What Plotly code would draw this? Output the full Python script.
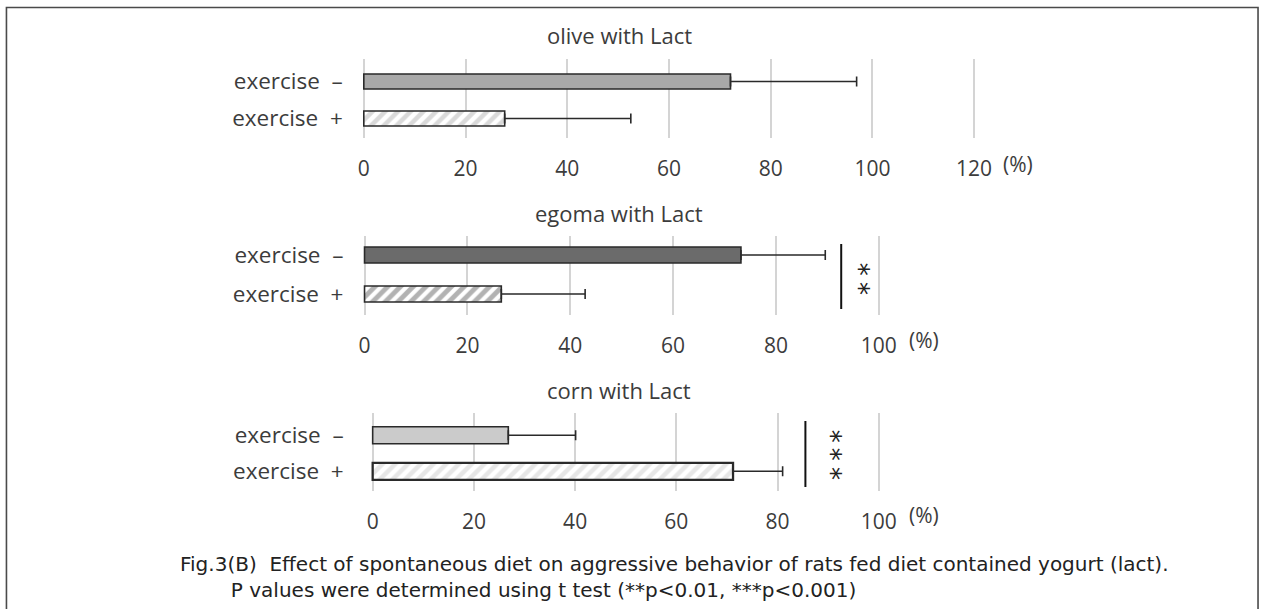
import plotly.graph_objects as go

# ---------------- data ----------------
categories = ["exercise\u00a0\u00a0\u2013", "exercise\u00a0\u00a0+"]
panel_titles = ["olive with Lact", "egoma with Lact", "corn with Lact"]

olive_values = [72.1, 27.7]
olive_errors = [24.8, 24.8]
egoma_values = [73.2, 26.6]
egoma_errors = [16.4, 16.3]
corn_values = [26.8, 71.2]
corn_errors = [13.3, 9.8]

olive_ticks = [0, 20, 40, 60, 80, 100, 120]
egoma_ticks = [0, 20, 40, 60, 80, 100]
corn_ticks = [0, 20, 40, 60, 80, 100]

egoma_sig = "**"
corn_sig = "***"

caption_line1 = "Fig.3(B)  Effect of spontaneous diet on aggressive behavior of rats fed diet contained yogurt (lact)."
caption_line2 = "P values were determined using t test (**p<0.01, ***p<0.001)"

# ---------------- layout helpers ----------------
W, H = 1275, 609
FONT = "Open Sans"
TXT = "#3c3c3c"
GRID = "#d4d4d4"


def px(x):
    return x / W


def py(y):
    return 1 - y / H


fig = go.Figure()

panels = [
    dict(vals=olive_values, errs=olive_errors, ticks=olive_ticks,
         colors=["#a9a9a9", "#b4b4b4"], bw=0.405, lw=[1.6, 1.6], sol=0.5),
    dict(vals=egoma_values, errs=egoma_errors, ticks=egoma_ticks,
         colors=["#6b6b6b", "#666666"], bw=0.41, lw=[1.6, 1.6], sol=0.55),
    dict(vals=corn_values, errs=corn_errors, ticks=corn_ticks,
         colors=["#cbcbcb", "#cdcdcd"], bw=0.47, lw=[1.6, 2.3], sol=0.5),
]

for i, p in enumerate(panels):
    xa = "x" if i == 0 else f"x{i+1}"
    ya = "y" if i == 0 else f"y{i+1}"
    # exercise - (solid)
    fig.add_trace(go.Bar(
        y=[categories[0]], x=[p["vals"][0]], orientation="h",
        width=p["bw"], xaxis=xa, yaxis=ya,
        marker=dict(color=p["colors"][0], line=dict(color="#2a2a2a", width=p["lw"][0])),
        error_x=dict(type="data", array=[p["errs"][0]], arrayminus=[0], symmetric=False,
                     color="#2a2a2a", thickness=1.6, width=5),
        showlegend=False, hoverinfo="x+y"))
    # exercise + (hatched)
    fig.add_trace(go.Bar(
        y=[categories[1]], x=[p["vals"][1]], orientation="h",
        width=p["bw"], xaxis=xa, yaxis=ya,
        marker=dict(color="white",
                    line=dict(color="#2a2a2a", width=p["lw"][1]),
                    pattern=dict(shape="/", fgcolor=p["colors"][1], bgcolor="white",
                                 size=9, solidity=p["sol"])),
        error_x=dict(type="data", array=[p["errs"][1]], arrayminus=[0], symmetric=False,
                     color="#2a2a2a", thickness=1.6, width=5),
        showlegend=False, hoverinfo="x+y"))

axis_common = dict(showgrid=True, gridcolor=GRID, gridwidth=2, zeroline=False,
                   showline=False, ticks="outside", tickcolor="rgba(0,0,0,0)",
                   fixedrange=True)

# x domains (pixel) and y domains (pixel) per panel; ranges padded so edge gridlines show
xdom = [(363.4, 987.6), (364.1, 890.9), (372.4, 890.9)]
ydom = [(59, 138), (236, 315), (412.7, 490.7)]
xr = [[-0.5, 120.5], [-0.5, 100.5], [-0.5, 100.5]]
yr = [[1.527, -0.608], [1.538, -0.487], [1.537, -0.623]]
ylab_len = [13, 13, 21]

for i in range(3):
    sx = "" if i == 0 else str(i + 1)
    fig.update_layout(**{
        f"xaxis{sx}": dict(axis_common, domain=[px(xdom[i][0]), px(xdom[i][1])],
                           range=xr[i], tickvals=panels[i]["ticks"], ticklen=12,
                           tickfont=dict(family=FONT, size=21, color=TXT),
                           anchor=f"y{sx}"),
        f"yaxis{sx}": dict(axis_common, domain=[py(ydom[i][1]), py(ydom[i][0])],
                           range=yr[i], type="category", categoryorder="array",
                           categoryarray=categories, showgrid=False,
                           tickfont=dict(family=FONT, size=22.5, color=TXT),
                           ticklen=ylab_len[i], anchor=f"x{sx}"),
    })

annotations = []
# panel titles
title_y = [35, 213, 390]
for t, yy in zip(panel_titles, title_y):
    annotations.append(dict(text=t, x=px(625), y=py(yy), xref="paper", yref="paper",
                            showarrow=False, xanchor="center", yanchor="middle",
                            font=dict(family=FONT, size=22, color=TXT)))
# (%) units
pct_pos = [(1030, 164), (934, 340), (934, 515)]
for xx, yy in pct_pos:
    annotations.append(dict(text="(%)", x=px(xx), y=py(yy), xref="paper", yref="paper",
                            showarrow=False, xanchor="center", yanchor="middle",
                            font=dict(family=FONT, size=21, color=TXT)))

# significance stars (rotated asterisks)
egoma_star_y = [0.36, 0.85]
for k, ch in enumerate(egoma_sig):
    annotations.append(dict(text=ch, x=96.2, y=egoma_star_y[k], xref="x2", yref="y2",
                            showarrow=False, textangle=90,
                            font=dict(family="DejaVu Sans", size=26, color="#222")))
corn_star_y = [0.02, 0.52, 1.05]
for k, ch in enumerate(corn_sig):
    annotations.append(dict(text=ch, x=90.6, y=corn_star_y[k], xref="x3", yref="y3",
                            showarrow=False, textangle=90,
                            font=dict(family="DejaVu Sans", size=26, color="#222")))

# caption (one block, second line indented)
caption = caption_line1 + "<br>" + "\u00a0" * 8 + caption_line2
annotations.append(dict(text=caption, x=px(177), y=py(550), xref="paper", yref="paper",
                        showarrow=False, xanchor="left", yanchor="top", align="left",
                        font=dict(family="DejaVu Sans", size=20, color="#222")))

shapes = [
    # outer frame
    dict(type="rect", xref="paper", yref="paper", x0=px(3.5), x1=px(1273), y0=-0.02, y1=py(7.5),
         line=dict(color="#4a4a4a", width=1.6), fillcolor="rgba(0,0,0,0)"),
    # significance lines
    dict(type="line", xref="x2", yref="y2", x0=92.7, x1=92.7, y0=-0.28, y1=1.385,
         line=dict(color="#111", width=2)),
    dict(type="line", xref="x3", yref="y3", x0=85.5, x1=85.5, y0=-0.39, y1=1.435,
         line=dict(color="#111", width=2)),
]

fig.update_layout(width=W, height=H, margin=dict(l=0, r=0, t=0, b=0),
                  paper_bgcolor="white", plot_bgcolor="white", barmode="overlay",
                  annotations=annotations, shapes=shapes, showlegend=False)

fig.write_html("out.html", config={"displayModeBar": False})
